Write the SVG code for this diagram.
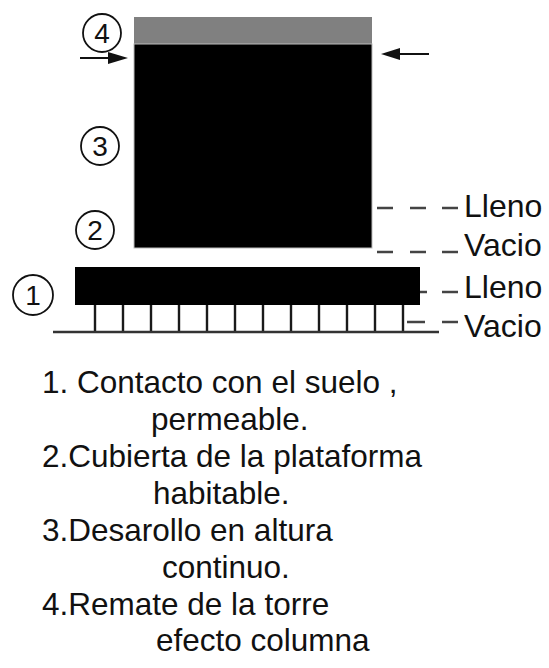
<svg xmlns="http://www.w3.org/2000/svg" width="549" height="668" viewBox="0 0 549 668">
<style>
text{font-family:"Liberation Sans",Arial,sans-serif;fill:#111}
.num{font-size:28px;text-anchor:middle}
.lbl{font-size:32px}
.lst{font-size:31.5px}
.circ{fill:none;stroke:#111;stroke-width:1.8}
.dash{stroke:#444;stroke-width:2.5;fill:none}
.grid{stroke:#1a1a1a;stroke-width:2.4;fill:none}
</style>
<rect width="549" height="668" fill="#fff"/>
<g id="connectors">
<line x1="80" y1="58" x2="112" y2="58" stroke="#111" stroke-width="2"/>
<polygon points="128,58 108,52 108,64" fill="#111"/>
<line x1="429" y1="54" x2="396" y2="54" stroke="#111" stroke-width="2"/>
<polygon points="381,54 400,48 400,60" fill="#111"/>
<path class="dash" d="M377 208h16M410 208h16M442 208h16"/>
<path class="dash" d="M377 252h16M410 252h16M442 252h16"/>
<path class="dash" d="M410 292h17M442 292h16"/>
<path class="dash" d="M407 322h18M442 322h16"/>
</g>
<g id="tower">
<rect x="134" y="17" width="238" height="27" fill="#808080"/>
<rect x="134" y="44" width="238" height="204" fill="#000" stroke="#bbb" stroke-width="1"/>
</g>
<g id="base">
<rect x="75" y="267" width="345" height="38" fill="#000"/>
<path class="grid" d="M95 305V332M123 305V332M151 305V332M179 305V332M207 305V332M235 305V332M263 305V332M291 305V332M319 305V332M347 305V332M375 305V332M403 305V332"/>
<line x1="53" y1="332" x2="439" y2="332" stroke="#333" stroke-width="2.5"/>
</g>
<g id="n4"><circle class="circ" cx="102" cy="33" r="19"/><text class="num" x="102" y="43">4</text></g>
<g id="n3"><circle class="circ" cx="100" cy="146" r="19"/><text class="num" x="100" y="156">3</text></g>
<g id="n2"><circle class="circ" cx="95" cy="230" r="19"/><text class="num" x="95" y="240">2</text></g>
<g id="n1"><circle class="circ" cx="33" cy="295" r="20"/><text class="num" x="33" y="305">1</text></g>
<g id="labels">
<text class="lbl" x="464" y="217">Lleno</text>
<text class="lbl" x="464" y="256">Vacio</text>
<text class="lbl" x="464" y="298">Lleno</text>
<text class="lbl" x="464" y="337">Vacio</text>
</g>
<g id="list">
<text class="lst" x="42" y="393">1. Contacto con el suelo ,</text>
<text class="lst" x="151" y="430">permeable.</text>
<text class="lst" x="42" y="467">2.Cubierta de la plataforma</text>
<text class="lst" x="153" y="504">habitable.</text>
<text class="lst" x="42" y="541">3.Desarollo en altura</text>
<text class="lst" x="162" y="578">continuo.</text>
<text class="lst" x="42" y="615">4.Remate de la torre</text>
<text class="lst" x="156" y="651">efecto columna</text>
</g>
</svg>
